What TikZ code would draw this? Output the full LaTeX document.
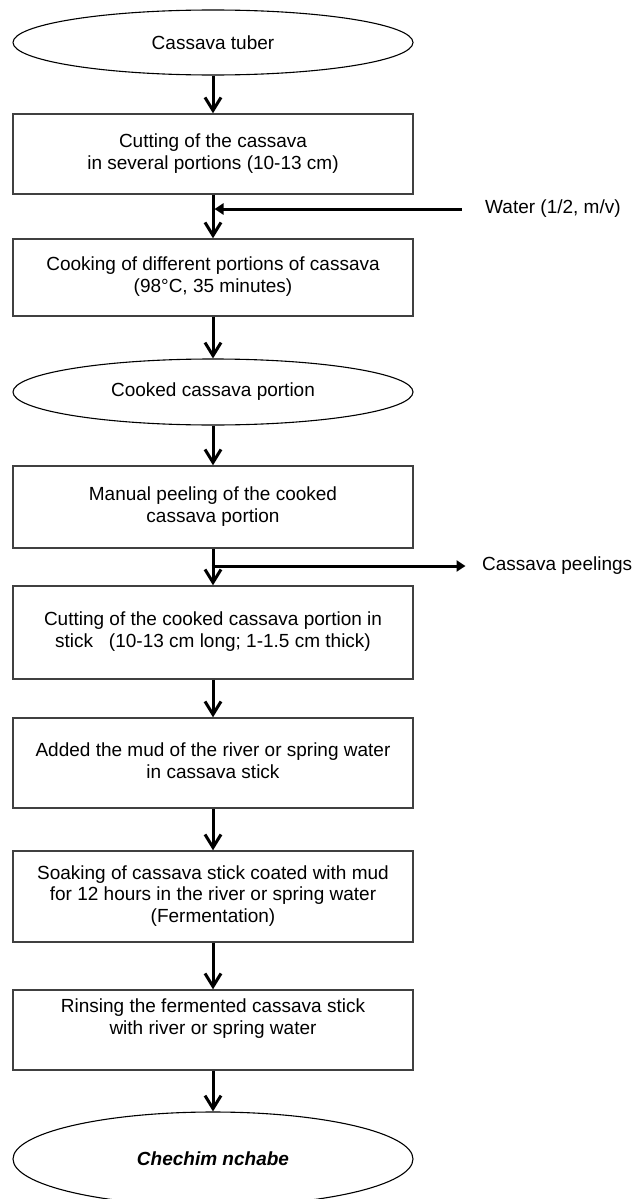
\documentclass[tikz,border=0pt]{standalone}
\usepackage{fontspec}
\setmainfont{Liberation Sans}
\usetikzlibrary{positioning,shapes.geometric,arrows.meta,calc}

\begin{document}
\begin{tikzpicture}[x=1pt,y=-1pt]
		\tikzset{
  stepbox/.style={
         rectangle,
         draw=black!75, line width=1.4pt,
         minimum width=400pt,
         inner sep=0,
         text centered,
         font=\fontsize{19}{21.8}\selectfont,
         },
  product/.style={
         ellipse,
         draw=black, line width=1.1pt,
         minimum width=400pt,
         inner sep=0,
         text centered,
         font=\fontsize{19}{21.8}\selectfont,
         },
  flow/.style={-{Straight Barb[length=13pt,width=16pt,line width=3pt]}, line width=3pt},
  side/.style={-{Triangle[length=9pt,width=11pt]}, line width=3pt},
  sidelabel/.style={inner sep=0, anchor=west, font=\fontsize{19}{21.8}\selectfont},
}

    \useasboundingbox (0,0) rectangle (634,1199);

    \node[product, minimum height=65pt] (tuber) at (213,42.5) {Cassava tuber};

    \node[stepbox,
      below of=tuber,
      node distance=111.5pt,
      minimum height=80pt,
      anchor=center] (cut)
    {
      \begin{tabular}{c}
        Cutting of the cassava\\
        in several portions (10-13 cm)
      \end{tabular}
    };

    \node[stepbox,
      below of=cut,
      node distance=123.5pt,
      minimum height=77pt,
      anchor=center] (cook)
    {
      \begin{tabular}{c}
        Cooking of different portions of cassava\\
        (98°C, 35 minutes)
      \end{tabular}
    };

    \node[product,
      below of=cook,
      node distance=114.5pt,
      minimum height=66pt,
      anchor=center] (cooked) {Cooked cassava portion};

    \node[stepbox,
      below of=cooked,
      node distance=115pt,
      minimum height=82pt,
      anchor=center] (peel)
    {
      \begin{tabular}{c}
        Manual peeling of the cooked\\
        cassava portion
      \end{tabular}
    };

    \node[stepbox,
      below of=peel,
      node distance=125.5pt,
      minimum height=93pt,
      anchor=center] (stick)
    {
      \begin{tabular}{c}
        Cutting of the cooked cassava portion in\\
        stick~~~(10-13 cm long; 1-1.5 cm thick)
      \end{tabular}
    };

    \node[stepbox,
      below of=stick,
      node distance=130.5pt,
      minimum height=90pt,
      anchor=center] (mud)
    {
      \begin{tabular}{c}
        Added the mud of the river or spring water\\
        in cassava stick
      \end{tabular}
    };

    \node[stepbox,
      below of=mud,
      node distance=133.5pt,
      minimum height=91pt,
      anchor=center] (soak)
    {
      \begin{tabular}{c}
        Soaking of cassava stick coated with mud\\
        for 12 hours in the river or spring water\\
        (Fermentation)
      \end{tabular}
    };

    \node[stepbox,
      below of=soak,
      node distance=133.5pt,
      minimum height=80pt,
      anchor=center] (rinse)
    {
      \begin{tabular}{c}
        Rinsing the fermented cassava stick\\
        with river or spring water\\
        ~
      \end{tabular}
    };

    \node[product,
      below of=rinse,
      node distance=129pt,
      minimum height=94pt,
      anchor=center] (chechim) {\textbf{\textit{Chechim nchabe}}};

    % inputs and outputs on the side
    \node[sidelabel] (water) at (485,209) {Water (1/2, m/v)};
    \node[sidelabel] (peelings) at (482,566) {Cassava peelings};


    \draw[flow] (tuber) -- (cut);
    \draw[flow] (cut) -- (cook);
    \draw[flow] (cook) -- (cooked);
    \draw[flow] (cooked) -- (peel);
    \draw[flow] (peel) -- (stick);
    \draw[flow] (stick) -- (mud);
    \draw[flow] (mud) -- (soak);
    \draw[flow] (soak) -- (rinse);
    \draw[flow] (rinse) -- (chechim);

    \draw[side] ([xshift=-23.5pt]water.west) -- ($(water.west -| cut.south)+(1.5,0)$);
    \draw[side] ($(peelings.west -| peel.south)+(-1.5,0)$) -- ([xshift=-16.5pt]peelings.west);

	\end{tikzpicture}
\end{document}
